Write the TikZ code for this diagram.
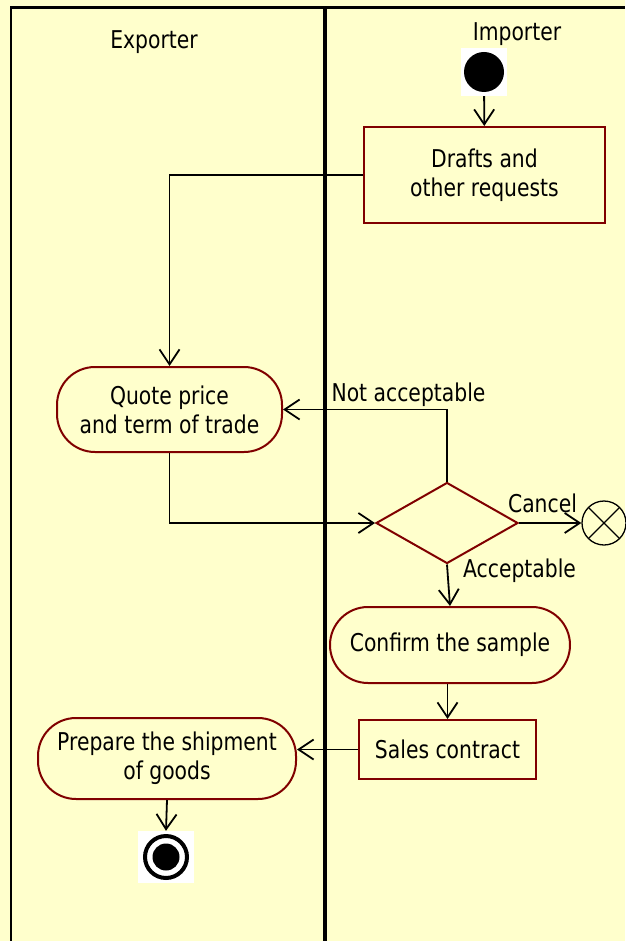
\documentclass[tikz,border=0pt]{standalone}
\usepackage{fontspec}
\setmainfont{DejaVu Sans}[FakeStretch=0.83]
\usetikzlibrary{arrows.meta,calc,shapes.geometric}
\definecolor{lanebg}{HTML}{FFFFCC}
\definecolor{actred}{HTML}{800000}

\begin{document}
\begin{tikzpicture}[x=1pt,y=-1pt,
  font=\fontsize{24.5}{29}\selectfont,
  flow/.style={-{Straight Barb[length=15pt,width=20pt]},line width=1.8pt},
  lane/.style={line width=2.5pt},
  action/.style={draw=actred,line width=2pt,rounded corners=38pt,align=center,inner sep=0pt},
  task/.style={draw=actred,line width=2pt,rectangle,align=center,inner sep=0pt},
  choice/.style={draw=actred,line width=2pt,diamond,inner sep=0pt,
        minimum width=142pt,minimum height=81pt},
  lbl/.style={anchor=base,inner sep=0pt}]

  % fond et couloirs
  \fill[lanebg] (0,0) rectangle (625,941);
  \useasboundingbox (0,0) rectangle (625,941);
  \draw[lane] (11,941) -- (11,7.5) -- (625,7.5);
  \draw[lane,line width=3.5pt] (325,7.5) -- (325,941);
  \node[lbl] (exporter) at (154,49) {Exporter};
  \node[lbl] (importer) at (517,41) {Importer};

  % noeud initial
  \node[fill=white,inner sep=0pt,minimum width=46pt,minimum height=48pt,
        path picture={\fill[black] (path picture bounding box.center) circle (20pt);}]
        (start) at (484,72) {};

  \node[task,minimum width=241pt,minimum height=96pt] (drafts) at (484.5,175)
        {Drafts and\\other requests};
  \node[action,minimum width=225pt,minimum height=85pt] (quote) at (169.5,409.5)
        {Quote price\\and term of trade};
  \node[choice] (decide) at (447,523) {};
  \node[circle,draw,line width=1.3pt,minimum size=44pt,inner sep=0pt,
        path picture={\draw[line width=1.3pt]
          (path picture bounding box.north west) -- (path picture bounding box.south east)
          (path picture bounding box.north east) -- (path picture bounding box.south west);}]
        (cancel) at (604,523) {};
  \node[action,minimum width=240pt,minimum height=76pt] (confirm) at (450,645)
        {Confirm the sample};
  \node[task,minimum width=177pt,minimum height=59pt] (sales) at (447.5,749.5)
        {Sales contract};
  \node[action,minimum width=258pt,minimum height=81pt] (prepare) at (167,758.5)
        {Prepare the shipment\\of goods};

  % noeud final
  \node[fill=white,inner sep=0pt,minimum width=56pt,minimum height=52pt,
        path picture={\draw[black,line width=4pt] (path picture bounding box.center) circle (21pt);
                      \fill[black] (path picture bounding box.center) circle (13.5pt);}]
        (finish) at (166,857) {};

  % transitions
  \draw[flow] (start) -- (drafts);
  \draw[flow] (drafts.west) -| (quote.north);
  \draw[flow] (decide.north) |- (quote.east);
  \draw[flow] (quote.south) |- (decide.west);
  \draw[flow] (decide.east) -- (cancel.west);
  \draw[flow] (decide.south) -- (confirm.north);
  \draw[flow] (confirm.south -| sales.north) -- (sales.north);
  \draw[flow] (sales.west) -- (sales.west -| prepare.east);
  \draw[flow] (prepare.south) -- (finish.north);

  \node[lbl] (notok) at (408.5,401) {Not acceptable};
  \node[lbl] (cancelled) at (542.5,512) {Cancel};
  \node[lbl] (accepted) at (519.5,577) {Acceptable};
\end{tikzpicture}
\end{document}
